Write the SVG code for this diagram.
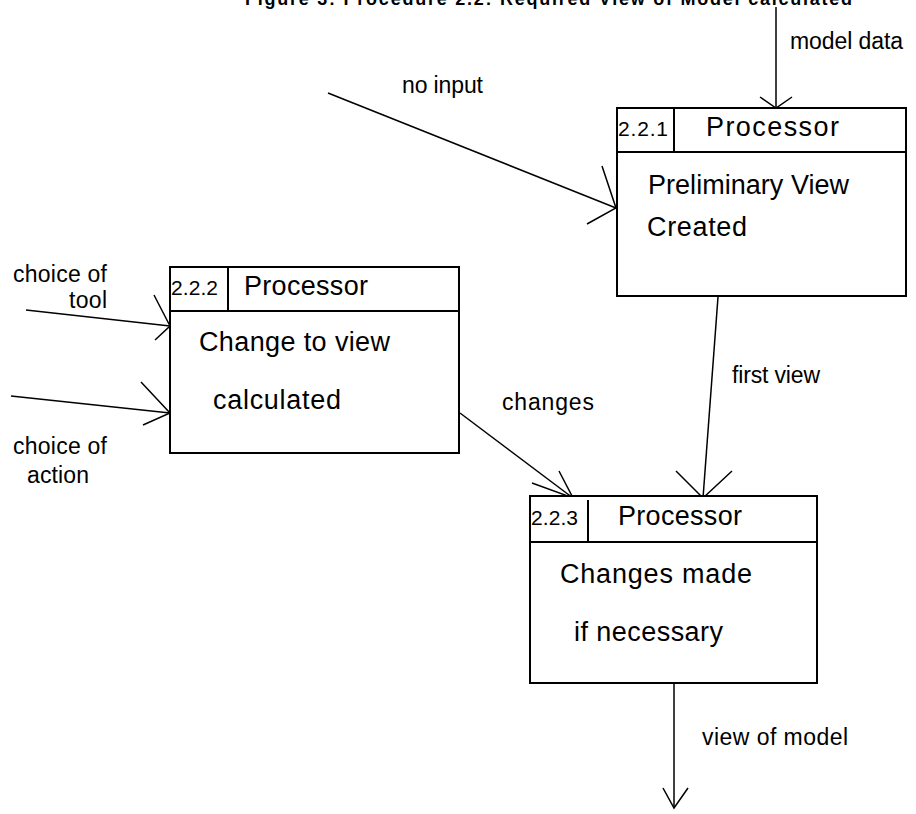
<svg xmlns="http://www.w3.org/2000/svg" width="916" height="814" viewBox="0 0 916 814">
<style>
  text { font-family: "Liberation Sans", Arial, sans-serif; fill: #000; }
  .title { font-size: 18px; font-weight: bold; }
  .lbl { font-size: 23px; }
  .num { font-size: 21px; }
  .proc { font-size: 27px; }
  .body { font-size: 27px; }
  .box { fill: #fff; stroke: #000; stroke-width: 2; }
  .div { stroke: #000; stroke-width: 2; fill: none; }
  .flow { stroke: #000; stroke-width: 1.5; fill: none; }
  .head { stroke: #000; stroke-width: 1.5; fill: none; stroke-linejoin: miter; }
</style>
<rect width="916" height="814" fill="#fff"/>
<text class="title" x="245" y="5" textLength="607">Figure 3: Procedure 2.2: Required View of Model calculated</text>

<g id="connectors">
  <g id="c-model-data">
    <line class="flow" x1="776" y1="7" x2="776" y2="108"/>
    <polyline class="head" points="760,97 776,108 792,97"/>
    <text class="lbl" x="790" y="49" textLength="113">model data</text>
  </g>
  <g id="c-no-input">
    <line class="flow" x1="328" y1="93" x2="616" y2="208"/>
    <polyline class="head" points="602,166 616,208 587,224"/>
    <text class="lbl" x="402" y="93" textLength="81">no input</text>
  </g>
  <g id="c-tool">
    <line class="flow" x1="26" y1="310" x2="170" y2="326"/>
    <polyline class="head" points="154,295 170,326 155,340"/>
    <text class="lbl" x="13" y="282" textLength="94">choice of</text>
    <text class="lbl" x="69" y="308" textLength="38">tool</text>
  </g>
  <g id="c-action">
    <line class="flow" x1="11" y1="396" x2="170" y2="413"/>
    <polyline class="head" points="141,382 170,413 143,425"/>
    <text class="lbl" x="13" y="454" textLength="94">choice of</text>
    <text class="lbl" x="27" y="483" textLength="62">action</text>
  </g>
  <g id="c-changes">
    <line class="flow" x1="460" y1="413" x2="573" y2="498"/>
    <polyline class="head" points="559,471 573,498 532,483"/>
    <text class="lbl" x="502" y="410" textLength="92">changes</text>
  </g>
  <g id="c-first-view">
    <line class="flow" x1="718" y1="297" x2="703" y2="498"/>
    <polyline class="head" points="676,471 703,498 732,471"/>
    <text class="lbl" x="732" y="383" textLength="88">first view</text>
  </g>
  <g id="c-view-of-model">
    <line class="flow" x1="674" y1="683" x2="674" y2="808"/>
    <polyline class="head" points="663,788 674,808 688,788"/>
    <text class="lbl" x="702" y="745" textLength="146">view of model</text>
  </g>
</g>

<g id="node-2-2-1">
  <rect class="box" x="617" y="108" width="289" height="188"/>
  <line class="div" x1="617" y1="152" x2="906" y2="152"/>
  <line class="div" x1="674" y1="108" x2="674" y2="152"/>
  <text class="num" x="618" y="136" textLength="50">2.2.1</text>
  <text class="proc" x="706" y="136" textLength="133">Processor</text>
  <text class="body" x="648" y="194" textLength="201">Preliminary View</text>
  <text class="body" x="647" y="236" textLength="100">Created</text>
</g>

<g id="node-2-2-2">
  <rect class="box" x="170" y="267" width="289" height="186"/>
  <line class="div" x1="170" y1="311" x2="459" y2="311"/>
  <line class="div" x1="228" y1="267" x2="228" y2="311"/>
  <text class="num" x="171" y="295" textLength="47">2.2.2</text>
  <text class="proc" x="244" y="295" textLength="124">Processor</text>
  <text class="body" x="199" y="351" textLength="191">Change to view</text>
  <text class="body" x="213" y="409" textLength="128">calculated</text>
</g>

<g id="node-2-2-3">
  <rect class="box" x="530" y="496" width="287" height="187"/>
  <line class="div" x1="530" y1="542" x2="817" y2="542"/>
  <line class="div" x1="588" y1="500" x2="588" y2="542"/>
  <text class="num" x="531" y="525" textLength="47">2.2.3</text>
  <text class="proc" x="618" y="525" textLength="124">Processor</text>
  <text class="body" x="560" y="583" textLength="192">Changes made</text>
  <text class="body" x="574" y="641" textLength="149">if necessary</text>
</g>
</svg>
